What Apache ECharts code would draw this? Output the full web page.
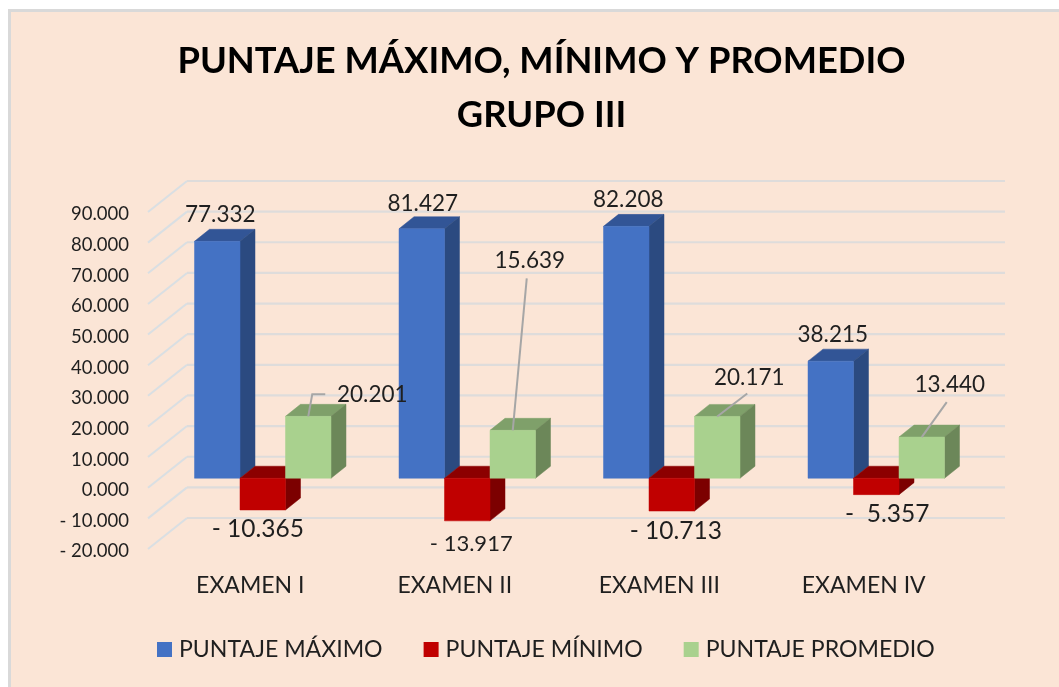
<!DOCTYPE html>
<html><head><meta charset="utf-8">
<script src="https://cdn.jsdelivr.net/npm/echarts@6/dist/echarts.min.js"></script>
<style>html,body{margin:0;padding:0;background:#fff}#c{width:1059px;height:687px}</style>
</head><body><div id="c"></div>
<script>
const categories = ['EXAMEN I','EXAMEN II','EXAMEN III','EXAMEN IV'];
const puntajeMaximo = [77.332, 81.427, 82.208, 38.215];
const puntajeMinimo = [-10.365, -13.917, -10.713, -5.357];
const puntajePromedio = [20.201, 15.639, 20.171, 13.440];
const gridTicks = [-20,-10,0,10,20,30,40,50,60,70,80,90];
const titleText = 'PUNTAJE MÁXIMO, MÍNIMO Y PROMEDIO\nGRUPO III';
const FONT = 'Lato, "Open Sans", sans-serif';
const TEXT = '#1f1f1f';

// label placement relative to the bar's end (dx, dy), font size, leader polyline
const labelPlacement = [
  [ {dx:3,dy:-27,fs:22.5},{dx:1,dy:-25,fs:22.5},{dx:2,dy:-26.5,fs:22.5},{dx:2,dy:-26.5,fs:22.5} ],
  [ {dx:-5,dy:19,fs:24.5,t:'- 10.365'},{dx:4,dy:23,fs:22,t:'- 13.917'},{dx:4,dy:20,fs:24.5,t:'- 10.713'},{dx:11,dy:19,fs:24.5,t:'-  5.357'} ],
  [ {dx:64,dy:-21.5,fs:22.5,lead:[[0,0],[4,-22],[17,-22]]},{dx:17,dy:-169.5,fs:22.5,lead:[[0,0],[14,-152]]},
    {dx:32,dy:-38.5,fs:22.5,lead:[[0,0],[30,-23]]},{dx:28,dy:-52.5,fs:22.5,lead:[[0,0],[25,-35]]} ]
];
const palette = [
  {front:'#4472c4',side:'#2b4a80',top:'#325596'},
  {front:'#c00000',side:'#7c0000',top:'#8c0000'},
  {front:'#a9d18e',side:'#6c8759',top:'#7fa06a'}
];
const BAR_W = 45.5, BAR_DX = 15, BAR_DY = -12, PLANE_DX = 12.5, PLANE_DY = -9.5, WALL_DX = 39, WALL_DY = -31, WALL_RIGHT = 1005;

function pos(api, cat, val, s){
  const p = api.coord([cat, val]);
  return [p[0] + PLANE_DX + (s-1)*BAR_W, p[1] + PLANE_DY];
}
function barSeries(name, values, s){
  return {
    type:'custom', name, z:2+s, itemStyle:{color:palette[s].front},
    data: values.map((v,i)=>[i,v]),
    encode:{x:0,y:1},
    renderItem(params, api){
      const c = api.value(0), v = api.value(1), col = palette[s];
      const a = pos(api,c,0,s), b = pos(api,c,v,s);
      const l = a[0]-BAR_W/2, r = a[0]+BAR_W/2, hi = Math.min(a[1],b[1]), lo = Math.max(a[1],b[1]);
      const poly = (pts,fill)=>({type:'polygon',shape:{points:pts},style:{fill,stroke:fill,lineWidth:0.5}});
      return {type:'group',children:[
        poly([[l,hi],[r,hi],[r+BAR_DX,hi+BAR_DY],[l+BAR_DX,hi+BAR_DY]],col.top),
        poly([[r,hi],[r+BAR_DX,hi+BAR_DY],[r+BAR_DX,lo+BAR_DY],[r,lo]],col.side),
        poly([[l,hi],[r,hi],[r,lo],[l,lo]],col.front)
      ]};
    }
  };
}
function labelSeries(values, s){
  return {
    type:'custom', z:10, silent:true, tooltip:{show:false},
    data: values.map((v,i)=>[i,v]),
    encode:{x:0,y:1},
    renderItem(params, api){
      const c = api.value(0), v = api.value(1), b = pos(api,c,v,s);
      const pl = labelPlacement[s][c], kids = [];
      if(pl.lead){
        kids.push({type:'polyline',shape:{points:pl.lead.map(q=>[b[0]+q[0],b[1]+q[1]])},
          style:{stroke:'#a6a6a6',lineWidth:2,fill:null}});
      }
      kids.push({type:'text',style:{text:pl.t||v.toFixed(3),x:b[0]+pl.dx,y:b[1]+pl.dy,align:'center',verticalAlign:'middle',
        fill:TEXT,font:pl.fs+'px '+FONT}});
      return {type:'group',children:kids};
    }
  };
}
const wallSeries = {
  type:'custom', z:1, silent:true, tooltip:{show:false},
  data: gridTicks.map(t=>[0,t]),
  encode:{y:1},
  renderItem(params, api){
    const t = api.value(1), p = api.coord([0,t]), left = params.coordSys.x;
    const y = p[1];
    return {type:'group',children:[
      {type:'line',shape:{x1:left,y1:y,x2:left+WALL_DX,y2:y+WALL_DY},style:{stroke:'#d9dfe3',lineWidth:2}},
      {type:'line',shape:{x1:left+WALL_DX,y1:y+WALL_DY,x2:WALL_RIGHT,y2:y+WALL_DY},style:{stroke:'#dedcdb',lineWidth:2.2}}
    ]};
  }
};
const chart = echarts.init(document.getElementById('c'),null,{renderer:'canvas'});
chart.setOption({
  animation:false,
  backgroundColor:'#ffffff',
  graphic:[{type:'rect',z:-10,shape:{x:9.5,y:10.5,width:1080,height:700},style:{fill:'#fbe5d6',stroke:'#d9d9d9',lineWidth:3}}],
  title:{text:titleText,left:536.5,top:29,textAlign:'center',
    textStyle:{fontFamily:FONT,fontWeight:'bold',fontSize:36.3,lineHeight:54,color:'#000'}},
  legend:{left:152,top:633,icon:'rect',itemWidth:15,itemHeight:15,itemGap:41,
    data:['PUNTAJE MÁXIMO','PUNTAJE MÍNIMO','PUNTAJE PROMEDIO'],
    textStyle:{fontFamily:FONT,fontSize:23.1,color:TEXT,padding:[0,0,0,2]}},
  grid:{left:148,right:93,top:212,bottom:138},
  xAxis:{type:'category',data:categories,axisLine:{show:false,onZero:false},axisTick:{show:false},splitLine:{show:false},
    axisLabel:{margin:25,fontFamily:FONT,fontSize:23,color:TEXT}},
  yAxis:{type:'value',min:-20,max:90,interval:10,axisLine:{show:false},axisTick:{show:false},splitLine:{show:false},
    axisLabel:{margin:19,fontFamily:FONT,fontSize:18.5,color:TEXT,verticalAlign:'top',lineHeight:5,
      formatter:v=>(v<0?'- ':'')+Math.abs(v).toFixed(3)}},
  series:[wallSeries,
    barSeries('PUNTAJE MÁXIMO',puntajeMaximo,0),
    barSeries('PUNTAJE MÍNIMO',puntajeMinimo,1),
    barSeries('PUNTAJE PROMEDIO',puntajePromedio,2),
    labelSeries(puntajeMaximo,0),labelSeries(puntajeMinimo,1),labelSeries(puntajePromedio,2)]
});
</script></body></html>
